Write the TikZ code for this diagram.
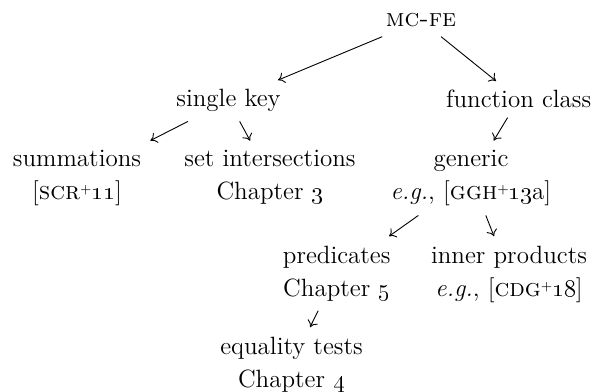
\documentclass[tikz,border=0pt]{standalone}
\usetikzlibrary{arrows.meta}
\newcommand{\supplus}{\raisebox{0.55ex}{\fontsize{6.5}{6.5}\selectfont +}}
\begin{document}
\begin{tikzpicture}[x=0.5pt,y=-0.5pt,
  lbl/.style={inner sep=4.5pt,align=center,font=\fontsize{12.5}{16.75}\selectfont},
  edge/.style={line width=0.45pt,-{To[length=3.2pt,width=5.5pt]}}]
\useasboundingbox (0,0) rectangle (597,391);
\node[lbl] (mcfe) at (421,20.5) {\textsc{mc-fe}};
\node[lbl] (single) at (228.5,100.75) {single key};
\node[lbl] (fclass) at (518.7,99.3) {function class};
\node[lbl] (summ) at (77,178) {summations\\{}[\textsc{scr}\supplus\oldstylenums{11}]};
\node[lbl] (setint) at (270,177.4) {set intersections\\Chapter \oldstylenums{3}};
\node[lbl] (generic) at (471,178) {generic\\\textit{e.g.}, [\textsc{ggh}\supplus\oldstylenums{13}a]};
\node[lbl] (pred) at (336.7,273.5) {predicates\\Chapter \oldstylenums{5}};
\node[lbl] (inner) at (509,274.2) {inner products\\\textit{e.g.}, [\textsc{cdg}\supplus\oldstylenums{18}]};
\node[lbl] (eq) at (291.5,364.5) {equality tests\\Chapter \oldstylenums{4}};
\draw[edge] (mcfe) -- (single);
\draw[edge] (mcfe) -- (fclass);
\draw[edge] (single) -- (summ);
\draw[edge] (single) -- (setint);
\draw[edge] (fclass) -- (generic);
\draw[edge] (generic) -- (pred);
\draw[edge] (generic) -- (inner);
\draw[edge] (pred) -- (eq);
\end{tikzpicture}
\end{document}
